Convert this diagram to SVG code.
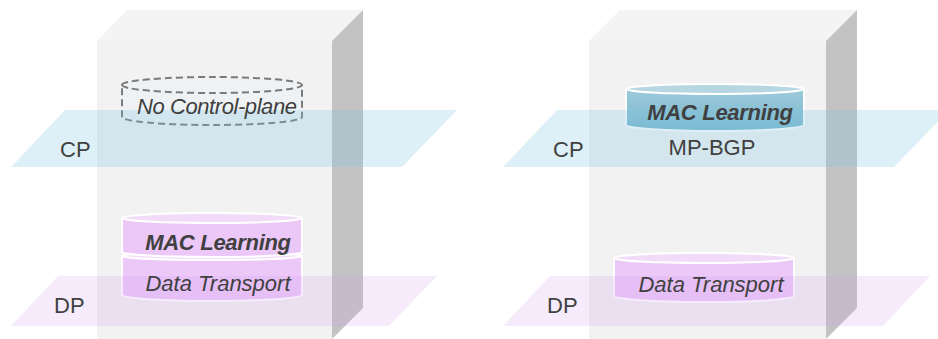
<svg xmlns="http://www.w3.org/2000/svg" width="938" height="339" viewBox="0 0 938 339">
<style>
.front{fill:#f2f2f2}
.top{fill:#f4f4f4}
.side{fill:#c3c3c3}
.cp{fill:#80c4e0;fill-opacity:0.26}
.dp{fill:#cd9beb;fill-opacity:0.2}
.lbl{font-family:"Liberation Sans",Arial,sans-serif;font-size:22px;fill:#404040}
.it{font-family:"Liberation Sans",Arial,sans-serif;font-size:22px;font-style:italic;fill:#404040}
.bi{font-family:"Liberation Sans",Arial,sans-serif;font-size:22px;font-style:italic;font-weight:bold;fill:#404040;letter-spacing:-0.3px}
.pbody{fill:#ebc8f8;stroke:#ffffff;stroke-width:2}
.ptop{fill:#f2dbf9;stroke:#ffffff;stroke-width:2}
.bbody{fill:url(#tealg);stroke:#ffffff;stroke-width:2}
.btop{fill:#b6d7e2;stroke:#ffffff;stroke-width:2}
.dash{fill:#eef2f5;fill-opacity:0.7;stroke:#7a7a7a;stroke-width:2;stroke-dasharray:7 4}
</style>
<defs>
<linearGradient id="tealg" x1="0" y1="0" x2="0" y2="1">
<stop offset="0" stop-color="#9ccadb"/>
<stop offset="1" stop-color="#7ab7ce"/>
</linearGradient>
</defs>

<g id="box-left">
<polygon class="top" points="97,41 127,10 363,10 332,41"/>
<rect class="front" x="97" y="41" width="235" height="298"/>
<polygon class="side" points="332,41 363,10 363,308 332,339"/>
</g>
<g id="box-right">
<polygon class="top" points="589,41 620,10 857,10 826,41"/>
<rect class="front" x="589" y="41" width="237" height="298"/>
<polygon class="side" points="826,41 857,10 857,308 826,339"/>
</g>

<g id="no-control-plane">
<path class="dash" d="M122,85 A90,8 0 0 1 302,85 L302,117 A90,8 0 0 1 122,117 Z"/>
<path class="dash" d="M122,85 A90,8 0 0 0 302,85" fill="none"/>
</g>

<g id="left-data-transport">
<path class="pbody" d="M122,256 L122,295 A90,6 0 0 0 302,295 L302,256 Z"/>
<ellipse class="ptop" cx="212" cy="256" rx="90" ry="4"/>
</g>
<g id="left-mac-learning">
<path class="pbody" d="M122,218 L122,252 A90,5 0 0 0 302,252 L302,218 Z"/>
<ellipse class="ptop" cx="212" cy="218" rx="90" ry="5"/>
</g>

<g id="right-mac-learning">
<path class="bbody" d="M626,89 L626,125 A89,6 0 0 0 804,125 L804,89 Z"/>
<ellipse class="btop" cx="715" cy="89" rx="89" ry="5"/>
</g>
<g id="right-data-transport">
<path class="pbody" d="M614,258 L614,296 A90,6 0 0 0 794,296 L794,258 Z"/>
<ellipse class="ptop" cx="704" cy="258" rx="90" ry="5"/>
</g>

<g id="planes">
<polygon id="cp-left" class="cp" points="11,167 65,110 457,110 402,167"/>
<polygon id="dp-left" class="dp" points="11,326 58,276 437,276 389,326"/>
<polygon id="cp-right" class="cp" points="503,167 557,110 949,110 894,167"/>
<polygon id="dp-right" class="dp" points="503,326 550,276 930,276 883,326"/>
</g>

<g id="labels">
<text class="it" x="217" y="114" text-anchor="middle" textLength="160">No Control-plane</text>
<text class="bi" x="218" y="250" text-anchor="middle">MAC Learning</text>
<text class="it" x="218" y="291" text-anchor="middle">Data Transport</text>
<text class="lbl" x="60" y="157">CP</text>
<text class="lbl" x="54" y="313">DP</text>
<text class="bi" x="720" y="120" text-anchor="middle">MAC Learning</text>
<text class="lbl" x="712" y="155" text-anchor="middle">MP-BGP</text>
<text class="it" x="711" y="292" text-anchor="middle">Data Transport</text>
<text class="lbl" x="553" y="157">CP</text>
<text class="lbl" x="547" y="313">DP</text>
</g>
</svg>
